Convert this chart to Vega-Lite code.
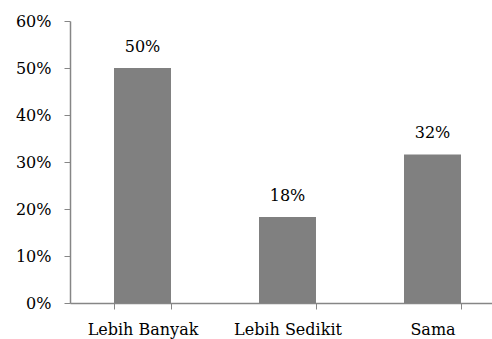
{
  "$schema": "https://vega.github.io/schema/vega-lite/v6.json",
  "autosize": {"type": "none"},
  "padding": {"left": 70, "top": 21, "right": 0, "bottom": 36},
  "width": 435,
  "height": 282,
  "background": "white",
  "config": {
    "view": {"stroke": null},
    "font": "DejaVu Serif",
    "axis": {
      "domainColor": "#868686",
      "tickColor": "#868686",
      "labelColor": "#000000",
      "labelFont": "DejaVu Serif",
      "labelFontSize": 16,
      "grid": false,
      "title": null
    }
  },
  "data": {
    "values": [
      {"kategori": "Lebih Banyak", "persen": 0.50},
      {"kategori": "Lebih Sedikit", "persen": 0.183},
      {"kategori": "Sama", "persen": 0.316}
    ]
  },
  "encoding": {
    "x": {
      "field": "kategori",
      "type": "nominal",
      "sort": null,
      "scale": {"paddingInner": 0.607, "paddingOuter": 0.3035},
      "axis": {
        "labelAngle": 0,
        "tickBand": "extent",
        "tickSize": 6,
        "labelPadding": 12,
        "domainWidth": 1.5
      }
    },
    "y": {
      "field": "persen",
      "type": "quantitative",
      "scale": {"domain": [0, 0.6], "nice": false},
      "axis": {
        "format": ".0%",
        "values": [0, 0.1, 0.2, 0.3, 0.4, 0.5, 0.6],
        "tickSize": 6,
        "labelPadding": 13,
        "domainWidth": 1.5
      }
    }
  },
  "layer": [
    {"mark": {"type": "bar", "color": "#808080"}},
    {
      "mark": {"type": "text", "baseline": "alphabetic", "dy": -16, "fontSize": 16, "color": "#000000", "font": "DejaVu Serif"},
      "encoding": {"text": {"field": "persen", "type": "quantitative", "format": ".0%"}}
    }
  ]
}
